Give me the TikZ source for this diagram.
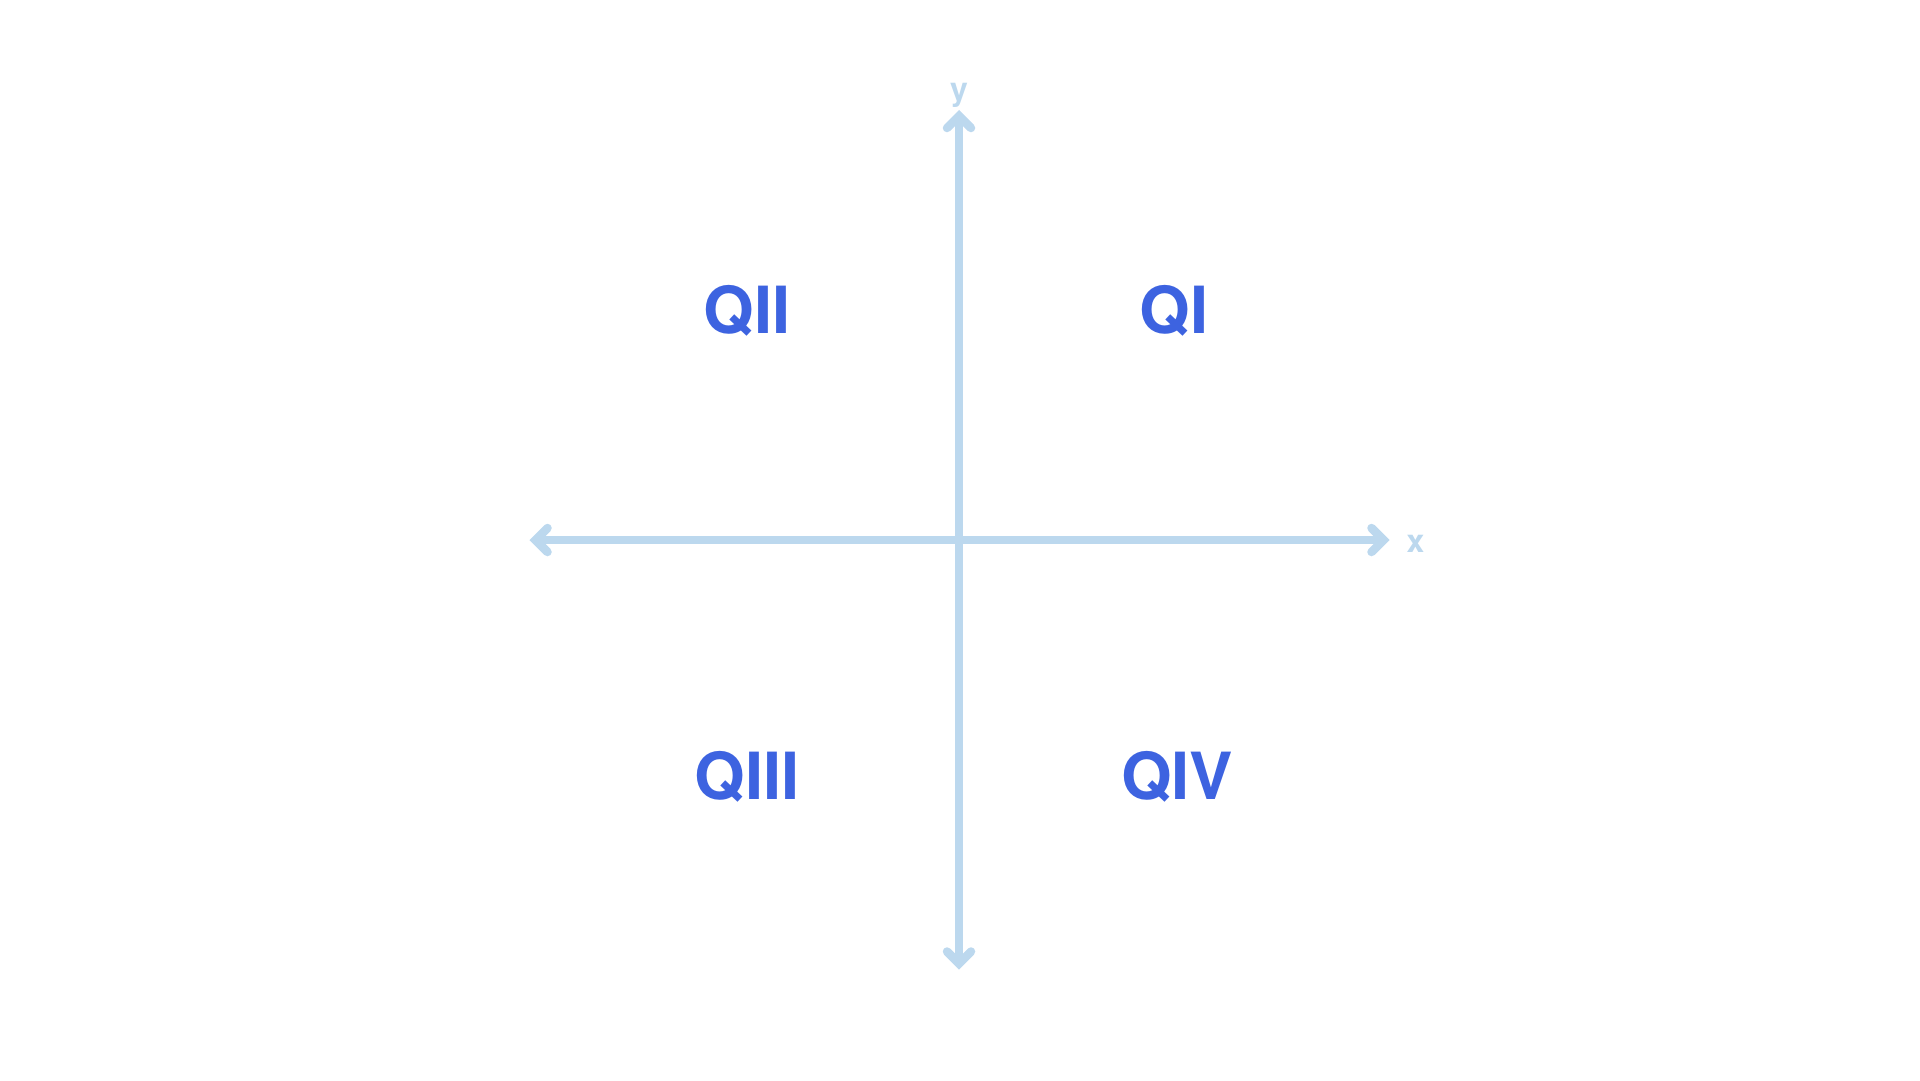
\documentclass[tikz,border=0pt]{standalone}
\usepackage{fontspec}
\setmainfont{TeX Gyre Heros}
\definecolor{axisblue}{HTML}{BCD8EE}
\definecolor{labelblue}{HTML}{3D63E0}
\begin{document}
\begin{tikzpicture}[x=1pt,y=-1pt,
  axis/.style={draw=axisblue,line width=8.5pt},
  tipline/.style={draw=axisblue,line width=8.5pt,line cap=round,line join=miter},
  quad/.style={text=labelblue,font=\bfseries\fontsize{65}{78}\selectfont,anchor=base,inner sep=0pt},
  axlabel/.style={text=axisblue,font=\bfseries\fontsize{32}{38}\selectfont,anchor=base,inner sep=0pt}]
\useasboundingbox (0,0) rectangle (1920,1080);
% coordinates
\coordinate (top) at (959,116);
\coordinate (bot) at (959,963.5);
\coordinate (lft) at (535.5,540);
\coordinate (rgt) at (1383.5,540);
% axes
\draw[axis] (top) -- (bot);
\draw[axis] (lft) -- (rgt);
% arrow heads
\draw[tipline] ([shift={(-12,12)}]top) -- (top) -- ([shift={(12,12)}]top);
\draw[tipline] ([shift={(-12,-12)}]bot) -- (bot) -- ([shift={(12,-12)}]bot);
\draw[tipline] ([shift={(12,-12)}]lft) -- (lft) -- ([shift={(12,12)}]lft);
\draw[tipline] ([shift={(-12,-12)}]rgt) -- (rgt) -- ([shift={(-12,12)}]rgt);
% axis labels
\node[axlabel] (ylab) at (959,100) {y};
\node[axlabel] (xlab) at (1415.5,552) {x};
% quadrant labels
\node[quad] (q2) at (747,333) {QII};
\node[quad] (q1) at (1174,333) {QI};
\node[quad] (q3) at (747,799) {QIII};
\node[quad] (q4) at (1177,799) {QIV};
\end{tikzpicture}
\end{document}
